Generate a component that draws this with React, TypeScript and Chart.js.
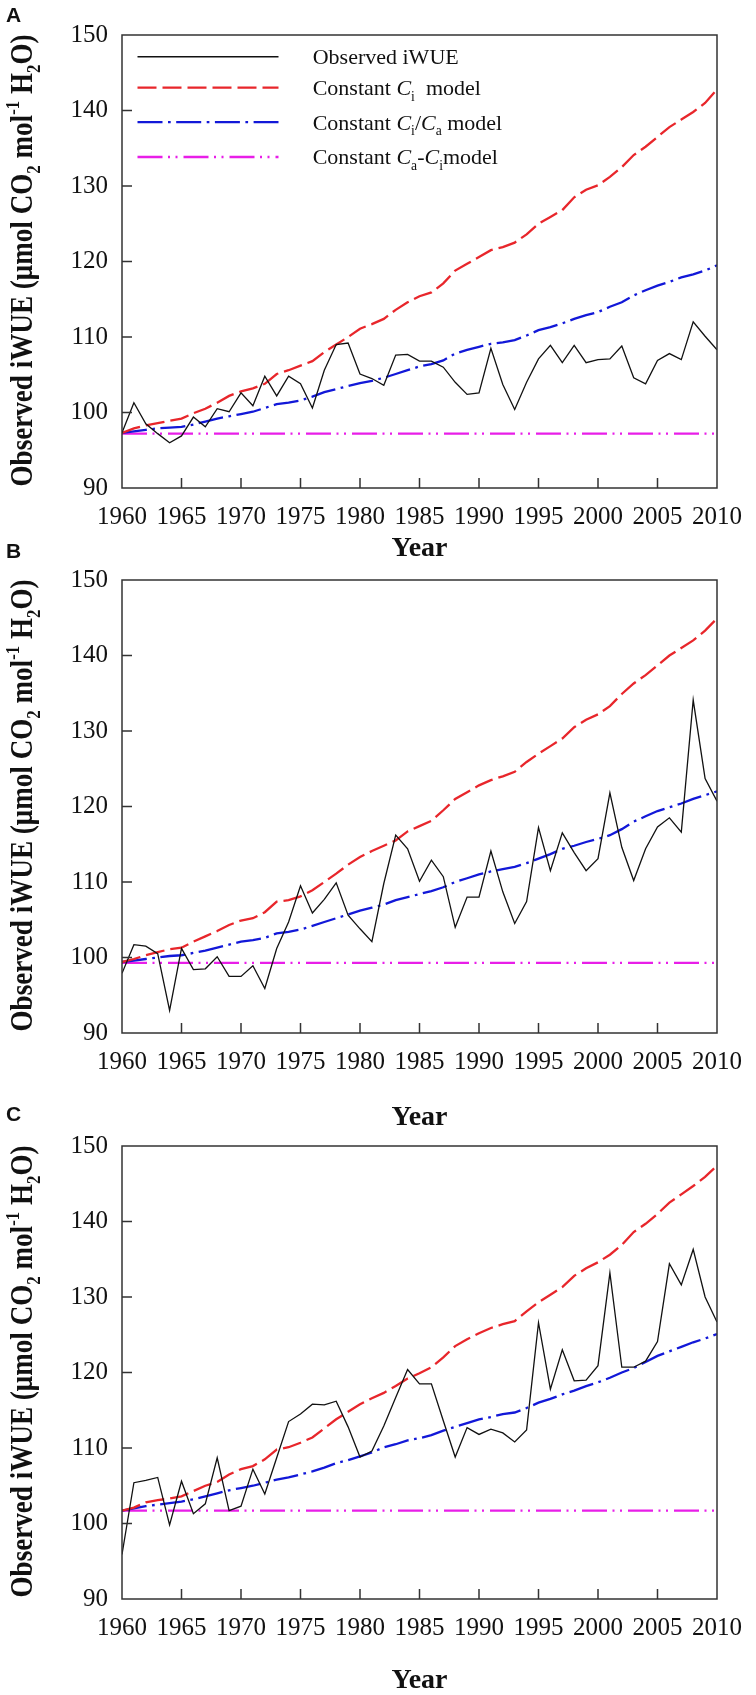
import { useEffect, useRef } from 'react';
import { Chart, registerables } from 'chart.js';

Chart.register(...registerables);

// ---------- data ----------
const YEARS = Array.from({ length: 51 }, (_, i) => 1960 + i);
const X_TICKS = [1960, 1965, 1970, 1975, 1980, 1985, 1990, 1995, 2000, 2005, 2010];
const Y_TICKS = [90, 100, 110, 120, 130, 140, 150];

const A_OBS = [
  97.3, 101.3, 98.5, 97.2, 96.0, 96.9, 99.4, 98.1, 100.5, 100.1,
  102.6, 100.9, 104.8, 102.2, 104.8, 103.8, 100.6, 105.6, 109.0, 109.2,
  105.1, 104.5, 103.6, 107.6, 107.7, 106.8, 106.8, 106.0, 104.0, 102.4,
  102.6, 108.5, 103.7, 100.4, 104.0, 107.1, 108.9, 106.6, 108.9, 106.6,
  107.0, 107.1, 108.8, 104.6, 103.8, 106.9, 107.8, 107.0, 112.0, 110.1, 108.3,
];
const A_CI = [
  97.3, 97.9, 98.3, 98.6, 98.9, 99.2, 99.9, 100.5, 101.3, 102.2,
  102.8, 103.2, 103.8, 105.1, 105.6, 106.2, 106.8, 108.0, 109.0, 110.0,
  111.1, 111.7, 112.4, 113.6, 114.6, 115.4, 115.9, 117.1, 118.8, 119.7,
  120.6, 121.5, 121.9, 122.5, 123.6, 125.0, 125.9, 126.8, 128.5, 129.5,
  130.1, 131.2, 132.5, 134.1, 135.2, 136.5, 137.8, 138.8, 139.8, 141.0, 142.8,
];
const A_CICA = [
  97.3, 97.5, 97.7, 97.9, 98.0, 98.1, 98.4, 98.8, 99.2, 99.5,
  99.8, 100.1, 100.6, 101.1, 101.3, 101.6, 102.1, 102.7, 103.1, 103.5,
  103.9, 104.2, 104.6, 105.1, 105.6, 106.1, 106.4, 106.9, 107.8, 108.3,
  108.7, 109.1, 109.3, 109.6, 110.2, 110.9, 111.3, 111.8, 112.4, 112.9,
  113.3, 114.0, 114.6, 115.5, 116.2, 116.8, 117.3, 117.9, 118.3, 118.8, 119.5,
];
const A_CACI = 97.2;

const B_OBS = [
  97.9, 101.7, 101.5, 100.5, 93.0, 101.2, 98.4, 98.5, 100.1, 97.5,
  97.5, 98.9, 95.9, 101.2, 104.7, 109.5, 105.9, 107.7, 109.9, 105.6,
  103.8, 102.1, 109.8, 116.2, 114.4, 110.1, 112.9, 110.7, 104.0, 108.0,
  108.0, 114.1, 108.7, 104.5, 107.4, 117.2, 111.5, 116.5, 113.9, 111.5,
  113.1, 121.8, 114.6, 110.2, 114.4, 117.3, 118.5, 116.6, 134.1, 123.7, 120.7,
];
const B_CI = [
  99.4, 99.8, 100.3, 100.7, 101.1, 101.3, 102.1, 102.8, 103.5, 104.3,
  104.9, 105.2, 106.0, 107.4, 107.6, 108.1, 108.9, 110.0, 111.1, 112.3,
  113.3, 114.1, 114.8, 115.5, 116.7, 117.4, 118.1, 119.5, 121.0, 121.9,
  122.8, 123.5, 124.0, 124.6, 125.9, 127.0, 128.0, 129.0, 130.5, 131.5,
  132.2, 133.3, 134.9, 136.3, 137.4, 138.7, 140.0, 141.0, 142.0, 143.3, 144.9,
];
const B_CICA = [
  99.4, 99.6, 99.8, 100.0, 100.2, 100.3, 100.6, 100.9, 101.3, 101.7,
  102.1, 102.3, 102.6, 103.2, 103.4, 103.7, 104.2, 104.7, 105.2, 105.7,
  106.2, 106.6, 107.0, 107.6, 108.0, 108.4, 108.8, 109.3, 110.0, 110.5,
  111.0, 111.4, 111.7, 112.0, 112.5, 113.1, 113.7, 114.4, 114.8, 115.3,
  115.7, 116.2, 117.0, 118.0, 118.7, 119.4, 119.9, 120.4, 121.0, 121.5, 122.0,
];
const B_CACI = 99.3;

const C_OBS = [
  95.9, 105.4, 105.7, 106.1, 99.8, 105.6, 101.3, 102.6, 108.7, 101.7,
  102.3, 107.2, 103.9, 108.7, 113.5, 114.5, 115.8, 115.7, 116.2, 112.8,
  108.8, 109.6, 112.9, 116.7, 120.4, 118.5, 118.5, 113.6, 108.8, 112.7,
  111.8, 112.5, 112.0, 110.8, 112.4, 126.6, 117.8, 123.0, 118.9, 119.0,
  120.9, 133.2, 120.7, 120.7, 121.5, 124.1, 134.4, 131.6, 136.3, 130.0, 126.7,
];
const C_CI = [
  101.7, 102.1, 102.8, 103.1, 103.3, 103.6, 104.3, 105.0, 105.5, 106.5,
  107.2, 107.6, 108.5, 109.8, 110.1, 110.7, 111.4, 112.6, 113.8, 114.8,
  115.8, 116.6, 117.3, 118.2, 119.2, 119.9, 120.7, 122.0, 123.5, 124.4,
  125.2, 125.9, 126.4, 126.8, 128.1, 129.3, 130.3, 131.3, 132.8, 133.8,
  134.6, 135.6, 136.9, 138.6, 139.7, 141.0, 142.5, 143.6, 144.7, 145.9, 147.4,
];
const C_CICA = [
  101.7, 102.0, 102.3, 102.5, 102.7, 102.9, 103.2, 103.6, 104.0, 104.4,
  104.7, 105.0, 105.4, 105.8, 106.1, 106.5, 106.9, 107.4, 108.0, 108.4,
  108.9, 109.4, 110.1, 110.5, 111.0, 111.3, 111.7, 112.3, 112.8, 113.3,
  113.8, 114.1, 114.5, 114.7, 115.3, 116.0, 116.5, 117.1, 117.6, 118.2,
  118.7, 119.3, 120.0, 120.6, 121.4, 122.2, 122.8, 123.4, 124.0, 124.5, 125.1,
];
const C_CACI = 101.7;

// ---------- styles ----------
const SERIF = "'Liberation Serif', 'Times New Roman', serif";
const SANS = "'Liberation Sans', Arial, sans-serif";
const BLACK = '#111111';
const RED = '#e8262b';
const BLUE = '#1218d8';
const MAGENTA = '#e81ee8';
const DASH_RED = [19, 6];
const DASH_BLUE = [25, 5.5, 2.7, 5.5];
const DASH_MAG = [25, 5.5, 2, 5.5, 2, 6];

type Seg = { t: string; it?: boolean; sub?: boolean; sup?: boolean };

function segFont(s: Seg, size: number, weight: string, family: string) {
  const fs = s.sub || s.sup ? size * 0.62 : size;
  return `${s.it ? 'italic ' : ''}${weight} ${fs}px ${family}`;
}
function measureRich(ctx: CanvasRenderingContext2D, segs: Seg[], size: number, weight: string, family: string) {
  let w = 0;
  for (const s of segs) {
    ctx.font = segFont(s, size, weight, family);
    w += ctx.measureText(s.t).width;
  }
  return w;
}
function drawRich(ctx: CanvasRenderingContext2D, segs: Seg[], x: number, y: number, size: number, weight: string, family: string) {
  let cx = x;
  for (const s of segs) {
    ctx.font = segFont(s, size, weight, family);
    const dy = s.sub ? size * 0.26 : s.sup ? -size * 0.4 : 0;
    ctx.fillText(s.t, cx, y + dy);
    cx += ctx.measureText(s.t).width;
  }
}

const Y_TITLE: Seg[] = [
  { t: 'Observed iWUE (\u03bcmol CO' },
  { t: '2', sub: true },
  { t: ' mol' },
  { t: '-1', sup: true },
  { t: ' H' },
  { t: '2', sub: true },
  { t: 'O)' },
];

const LEGEND_ITEMS: { segs: Seg[]; color: string; dash: number[]; width: number }[] = [
  { segs: [{ t: 'Observed iWUE' }], color: BLACK, dash: [], width: 1.4 },
  { segs: [{ t: 'Constant ' }, { t: 'C', it: true }, { t: 'i', sub: true }, { t: '  model' }], color: RED, dash: DASH_RED, width: 2.3 },
  {
    segs: [{ t: 'Constant ' }, { t: 'C', it: true }, { t: 'i', sub: true }, { t: '/' }, { t: 'C', it: true }, { t: 'a', sub: true }, { t: ' model' }],
    color: BLUE, dash: DASH_BLUE, width: 2.3,
  },
  {
    segs: [{ t: 'Constant ' }, { t: 'C', it: true }, { t: 'a', sub: true }, { t: '-' }, { t: 'C', it: true }, { t: 'i', sub: true }, { t: 'model' }],
    color: MAGENTA, dash: DASH_MAG, width: 2.3,
  },
];
const LEGEND_ROWS = [56.7, 87.7, 122.2, 157.0];

type PanelCfg = {
  letter: string;
  top: number;
  height: number;
  padTop: number;
  xAxisHeight: number;
  titlePadBottom: number;
  letterY: number;
  obs: number[];
  ci: number[];
  cica: number[];
  caci: number;
  legend: boolean;
};

const PANELS: PanelCfg[] = [
  { letter: 'A', top: 0, height: 570, padTop: 35, xAxisHeight: 82, titlePadBottom: 7, letterY: 16, obs: A_OBS, ci: A_CI, cica: A_CICA, caci: A_CACI, legend: true },
  { letter: 'B', top: 540, height: 592, padTop: 40, xAxisHeight: 99, titlePadBottom: 0, letterY: 12.5, obs: B_OBS, ci: B_CI, cica: B_CICA, caci: B_CACI, legend: false },
  { letter: 'C', top: 1095, height: 600, padTop: 51, xAxisHeight: 96, titlePadBottom: 0, letterY: 20.5, obs: C_OBS, ci: C_CI, cica: C_CICA, caci: C_CACI, legend: false },
];

function makePlugin(cfg: PanelCfg) {
  return {
    id: 'decor' + cfg.letter,
    afterDatasetsDraw(chart: any) {
      const { ctx, chartArea } = chart;
      const { left, right, top, bottom } = chartArea;
      const xs = chart.scales.x;
      const ys = chart.scales.y;
      ctx.save();
      ctx.strokeStyle = '#333333';
      ctx.lineWidth = 1.5;
      ctx.setLineDash([]);
      ctx.strokeRect(left, top, right - left, bottom - top);
      ctx.beginPath();
      for (const v of X_TICKS) {
        if (v === X_TICKS[0] || v === X_TICKS[X_TICKS.length - 1]) continue;
        const px = xs.getPixelForValue(v);
        ctx.moveTo(px, bottom);
        ctx.lineTo(px, bottom - 10);
      }
      for (const v of Y_TICKS) {
        if (v === Y_TICKS[0] || v === Y_TICKS[Y_TICKS.length - 1]) continue;
        const py = ys.getPixelForValue(v);
        ctx.moveTo(left, py);
        ctx.lineTo(left + 10, py);
      }
      ctx.stroke();
      ctx.restore();
    },
    afterDraw(chart: any) {
      const { ctx, chartArea } = chart;
      const { top, bottom } = chartArea;
      ctx.save();
      // panel letter
      ctx.fillStyle = '#111111';
      ctx.font = `bold 21px ${SANS}`;
      ctx.textAlign = 'left';
      ctx.textBaseline = 'middle';
      ctx.fillText(cfg.letter, 6, cfg.letterY);

      // y-axis title (rotated, condensed to span the plot height)
      ctx.textBaseline = 'alphabetic';
      const size = 31;
      const total = measureRich(ctx, Y_TITLE, size, 'bold', SERIF);
      const target = bottom - top - 1;
      const f = target / total;
      ctx.save();
      ctx.translate(31.5, (top + bottom) / 2 - 1);
      ctx.rotate(-Math.PI / 2);
      ctx.scale(f, 1);
      drawRich(ctx, Y_TITLE, -total / 2, 0, size, 'bold', SERIF);
      ctx.restore();

      // legend
      if (cfg.legend) {
        LEGEND_ITEMS.forEach((it, i) => {
          const y = LEGEND_ROWS[i];
          ctx.beginPath();
          ctx.strokeStyle = it.color;
          ctx.lineWidth = it.width;
          ctx.lineCap = 'butt';
          ctx.setLineDash(it.dash);
          ctx.moveTo(137.5, y);
          ctx.lineTo(278.5, y);
          ctx.stroke();
          ctx.setLineDash([]);
          ctx.fillStyle = '#111111';
          drawRich(ctx, it.segs, 312.7, y + 7.4, 22, 'normal', SERIF);
        });
      }
      ctx.restore();
    },
  };
}

function Panel({ cfg }: { cfg: PanelCfg }) {
  const ref = useRef<HTMLCanvasElement | null>(null);
  useEffect(() => {
    if (!ref.current) return;
    const pts = (arr: number[]) => YEARS.map((x, i) => ({ x, y: arr[i] }));
    const chart = new Chart(ref.current, {
      type: 'line',
      data: {
        datasets: [
          { label: 'Observed iWUE', data: pts(cfg.obs), borderColor: BLACK, borderWidth: 1.3, pointRadius: 0, tension: 0, fill: false },
          { label: 'Constant Ci model', data: pts(cfg.ci), borderColor: RED, borderWidth: 2.3, borderDash: DASH_RED, pointRadius: 0, tension: 0, fill: false },
          { label: 'Constant Ci/Ca model', data: pts(cfg.cica), borderColor: BLUE, borderWidth: 2.3, borderDash: DASH_BLUE, pointRadius: 0, tension: 0, fill: false },
          {
            label: 'Constant Ca-Ci model',
            data: [{ x: YEARS[0], y: cfg.caci }, { x: YEARS[YEARS.length - 1], y: cfg.caci }],
            borderColor: MAGENTA, borderWidth: 2.3, borderDash: DASH_MAG, pointRadius: 0, tension: 0, fill: false,
          },
        ],
      },
      options: {
        animation: false,
        responsive: false,
        devicePixelRatio: 1,
        events: [],
        layout: { padding: { top: cfg.padTop, right: 29, left: 0, bottom: 0 } },
        plugins: { legend: { display: false }, tooltip: { enabled: false } },
        scales: {
          x: {
            type: 'linear',
            min: X_TICKS[0],
            max: X_TICKS[X_TICKS.length - 1],
            grid: { display: false, drawTicks: false },
            border: { display: false },
            afterBuildTicks: (s: any) => { s.ticks = X_TICKS.map((v) => ({ value: v })); },
            afterFit: (s: any) => { s.height = cfg.xAxisHeight; },
            ticks: {
              padding: 14,
              autoSkip: false,
              maxRotation: 0,
              minRotation: 0,
              color: '#111111',
              font: { family: SERIF, size: 25 },
              callback: (v: any) => String(v),
            },
            title: {
              display: true,
              text: 'Year',
              color: '#111111',
              font: { family: SERIF, size: 28, weight: 'bold', lineHeight: 1 },
              padding: { top: 0, bottom: cfg.titlePadBottom },
            },
          },
          y: {
            type: 'linear',
            min: Y_TICKS[0],
            max: Y_TICKS[Y_TICKS.length - 1],
            grid: { display: false, drawTicks: false },
            border: { display: false },
            afterBuildTicks: (s: any) => { s.ticks = Y_TICKS.map((v) => ({ value: v })); },
            afterFit: (s: any) => { s.width = 122; },
            ticks: {
              padding: 14,
              color: '#111111',
              font: { family: SERIF, size: 25 },
              callback: (v: any) => String(v),
            },
          },
        },
      } as any,
      plugins: [makePlugin(cfg)],
    });
    return () => chart.destroy();
  }, [cfg]);
  return (
    <canvas
      ref={ref}
      width={756}
      height={cfg.height}
      style={{ position: 'absolute', left: 0, top: cfg.top, width: 756, height: cfg.height, display: 'block' }}
    />
  );
}

export default function App() {
  return (
    <div style={{ position: 'absolute', left: 0, top: 0, width: 756, height: 1695, overflow: 'hidden', background: '#ffffff' }}>
      {PANELS.map((p) => (
        <Panel key={p.letter} cfg={p} />
      ))}
    </div>
  );
}
